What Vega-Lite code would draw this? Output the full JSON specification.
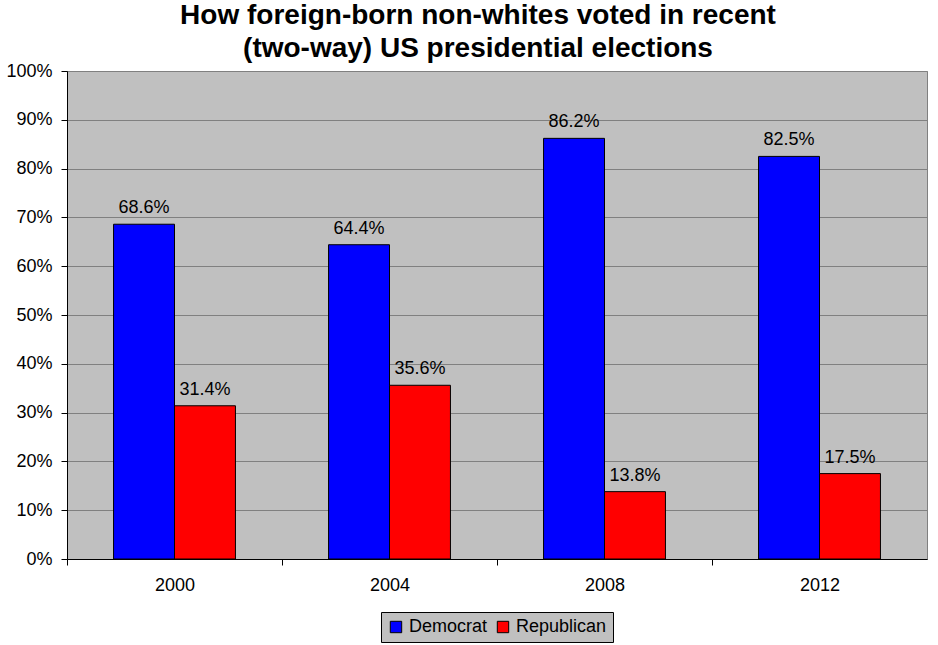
{
  "$schema": "https://vega.github.io/schema/vega-lite/v6.json",
  "width": 860,
  "height": 488,
  "autosize": {"type": "none"},
  "padding": {"left": 67, "top": 71, "right": 11, "bottom": 86},
  "background": "white",
  "title": {
    "text": ["How foreign-born non-whites voted in recent", "(two-way) US presidential elections"],
    "font": "Liberation Sans",
    "fontSize": 28,
    "fontWeight": "bold",
    "color": "black",
    "anchor": "middle",
    "frame": "group",
    "dx": -19,
    "offset": -1,
    "lineHeight": 33
  },
  "config": {
    "view": {"fill": "#C0C0C0", "stroke": "#808080", "strokeWidth": 1},
    "font": "Liberation Sans"
  },
  "data": {
    "values": [
      {"year": "2000", "party": "Democrat", "share": 0.686},
      {"year": "2000", "party": "Republican", "share": 0.314},
      {"year": "2004", "party": "Democrat", "share": 0.644},
      {"year": "2004", "party": "Republican", "share": 0.356},
      {"year": "2008", "party": "Democrat", "share": 0.862},
      {"year": "2008", "party": "Republican", "share": 0.138},
      {"year": "2012", "party": "Democrat", "share": 0.825},
      {"year": "2012", "party": "Republican", "share": 0.175}
    ]
  },
  "encoding": {
    "x": {
      "field": "year",
      "type": "nominal",
      "scale": {"paddingInner": 0.433, "paddingOuter": 0.2165},
      "axis": {
        "title": null,
        "labelAngle": 0,
        "labelFontSize": 18,
        "labelColor": "black",
        "labelPadding": 11,
        "labelOffset": 107.5,
        "tickSize": 6,
        "tickColor": "black",
        "tickOffset": -107.5,
        "domainColor": "black",
        "grid": false
      }
    },
    "xOffset": {"field": "party", "sort": ["Democrat", "Republican"], "scale": {"paddingInner": 0}},
    "y": {
      "field": "share",
      "type": "quantitative",
      "scale": {"domain": [0, 1]},
      "axis": {
        "title": null,
        "format": "%",
        "values": [0, 0.1, 0.2, 0.3, 0.4, 0.5, 0.6, 0.7, 0.8, 0.9, 1],
        "grid": true,
        "gridColor": "#808080",
        "gridWidth": 1,
        "domainColor": "black",
        "tickColor": "black",
        "tickSize": 6,
        "labelFontSize": 18,
        "labelColor": "black",
        "labelPadding": 9
      }
    }
  },
  "layer": [
    {
      "mark": {"type": "bar", "stroke": "black", "strokeWidth": 1},
      "encoding": {
        "color": {
          "field": "party",
          "type": "nominal",
          "scale": {"domain": ["Democrat", "Republican"], "range": ["#0000FF", "#FF0000"]},
          "legend": {
            "orient": "none",
            "legendX": 314,
            "legendY": 541,
            "direction": "horizontal",
            "title": null,
            "fillColor": "#C0C0C0",
            "strokeColor": "black",
            "padding": 6,
            "symbolType": "square",
            "symbolSize": 130,
            "symbolStrokeColor": "black",
            "symbolStrokeWidth": 1,
            "symbolOpacity": 1,
            "labelFontSize": 18,
            "labelColor": "black",
            "labelOffset": 4,
            "columnPadding": 6
          }
        }
      }
    },
    {
      "mark": {"type": "text", "dy": -11, "baseline": "alphabetic", "fontSize": 18, "color": "black"},
      "encoding": {"text": {"field": "share", "format": ".1%"}}
    }
  ]
}
